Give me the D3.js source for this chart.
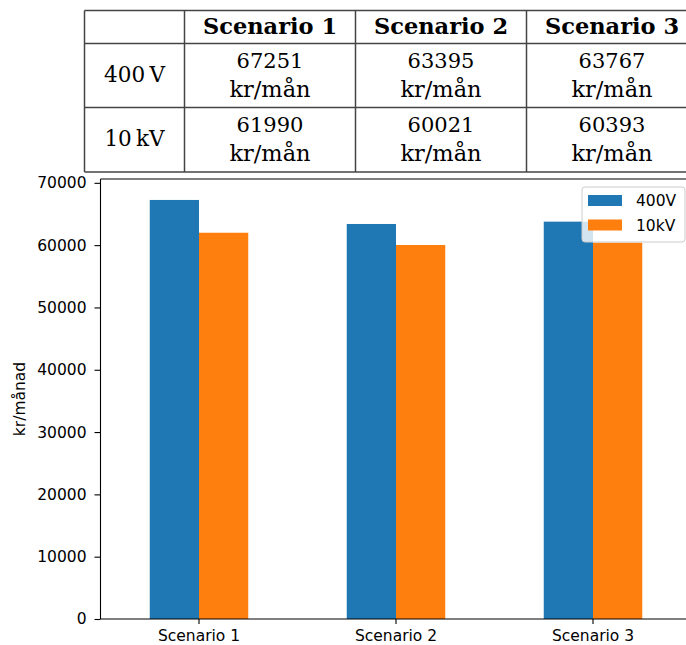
<!DOCTYPE html>
<html><head><meta charset="utf-8">
<script src="https://cdn.jsdelivr.net/npm/d3@7"></script>
<style>body{margin:0;background:#fff}svg{display:block}</style>
</head><body>
<script>
const categories = ["Scenario 1", "Scenario 2", "Scenario 3"];
const seriesNames = ["400V", "10kV"];
const values400V = [67251, 63395, 63767];
const values10kV = [61990, 60021, 60393];
const tableRowLabels = ["400\u202FV", "10\u202FkV"];
const unitLabel = "kr/mån";
const yTicks = [0, 10000, 20000, 30000, 40000, 50000, 60000, 70000];
const colors = ["#1f77b4", "#ff7f0e"];

const W = 686, H = 645;
const svg = d3.select("body").append("svg").attr("width", W).attr("height", H);

const plot = {left: 100.5, right: 691.5, top: 179, bottom: 619};
const series = [values400V, values10kV];
const ymax = d3.max(series.flat()) * 1.05;

const x = d3.scaleBand().domain(categories).range([plot.left, plot.right]).paddingInner(0.5).paddingOuter(0.25);
const xs = d3.scaleBand().domain(seriesNames).range([0, x.bandwidth()]);
const y = d3.scaleLinear().domain([0, ymax]).range([plot.bottom, plot.top]);

// bars
seriesNames.forEach((s, si) => {
  svg.append("g").selectAll("rect").data(series[si]).join("rect")
    .attr("x", (d, i) => x(categories[i]) + xs(s))
    .attr("width", xs.bandwidth())
    .attr("y", d => y(d))
    .attr("height", d => y(0) - y(d))
    .attr("fill", colors[si]);
});

// axes
const fontSans = "DejaVu Sans, sans-serif";
const fs = 15.5;
const yAxis = svg.append("g").attr("transform", `translate(${plot.left},0)`)
  .call(d3.axisLeft(y).tickValues(yTicks).tickSize(6).tickPadding(8).tickFormat(d3.format("d")));
const xAxis = svg.append("g").attr("transform", `translate(0,${plot.bottom})`)
  .call(d3.axisBottom(x).tickSize(5).tickPadding(6));
[yAxis, xAxis].forEach(a => {
  a.attr("font-family", fontSans).attr("font-size", fs);
  a.selectAll("text").attr("font-family", fontSans).attr("font-size", fs).attr("fill", "#000");
  a.selectAll("line").attr("stroke", "#000").attr("stroke-width", 1.1);
  a.select(".domain").attr("stroke", "#000").attr("stroke-width", 1.1);
});
yAxis.select(".domain").attr("d", `M0,${y(0)}V${plot.top}`);
xAxis.select(".domain").attr("d", `M${plot.left},0H${W + 10}`);
// top spine
svg.append("line").attr("x1", plot.left).attr("x2", W + 10).attr("y1", plot.top).attr("y2", plot.top)
  .attr("stroke", "#000").attr("stroke-width", 1.1);

// y label
svg.append("text").attr("transform", `translate(25,${(plot.top + plot.bottom) / 2}) rotate(-90)`)
  .attr("text-anchor", "middle").attr("font-family", fontSans).attr("font-size", fs).text("kr/månad");

// legend
const lg = svg.append("g").attr("transform", "translate(582,187)");
lg.append("rect").attr("width", 103).attr("height", 55).attr("rx", 3)
  .attr("fill", "#fff").attr("fill-opacity", 0.8).attr("stroke", "#ccc").attr("stroke-width", 1);
seriesNames.forEach((s, i) => {
  lg.append("rect").attr("x", 6).attr("y", 8 + i * 24.5).attr("width", 34).attr("height", 11).attr("fill", colors[i]);
  lg.append("text").attr("x", 54).attr("y", 19 + i * 24.5).attr("font-family", fontSans).attr("font-size", fs).text(s);
});

// table
const serif = "'DejaVu Serif', serif";
const tb = {left: 84.5, top: 10.5, colW: [100, 171, 171, 171], rowY: [10.5, 43.5, 107.5, 172]};
const colX = [tb.left];
tb.colW.forEach(w => colX.push(colX[colX.length - 1] + w));
const tg = svg.append("g");
tg.append("rect").attr("x", tb.left).attr("y", tb.rowY[0]).attr("width", colX[4] - tb.left).attr("height", tb.rowY[3] - tb.rowY[0])
  .attr("fill", "#fff");
tb.rowY.forEach(yy => tg.append("line").attr("x1", tb.left).attr("x2", colX[4]).attr("y1", yy).attr("y2", yy)
  .attr("stroke", "#444").attr("stroke-width", 1.5));
colX.forEach(xx => tg.append("line").attr("x1", xx).attr("x2", xx).attr("y1", tb.rowY[0]).attr("y2", tb.rowY[3])
  .attr("stroke", "#444").attr("stroke-width", 1.5));
categories.forEach((c, i) => {
  tg.append("text").attr("x", (colX[i + 1] + colX[i + 2]) / 2).attr("y", 33.5)
    .attr("text-anchor", "middle").attr("font-family", serif).attr("font-weight", "bold").attr("font-size", 22.5).text(c);
});
tableRowLabels.forEach((r, ri) => {
  const cy = (tb.rowY[ri + 1] + tb.rowY[ri + 2]) / 2;
  tg.append("text").attr("x", (colX[0] + colX[1]) / 2).attr("y", cy + 6)
    .attr("text-anchor", "middle").attr("font-family", serif).attr("font-size", 21.5).text(r);
  series[ri].forEach((v, ci) => {
    const cx = (colX[ci + 1] + colX[ci + 2]) / 2;
    tg.append("text").attr("x", cx).attr("y", cy - 8).attr("text-anchor", "middle")
      .attr("font-family", serif).attr("font-size", 21).text(v);
    tg.append("text").attr("x", cx).attr("y", cy + 21).attr("text-anchor", "middle")
      .attr("font-family", serif).attr("font-size", 22.5).text(unitLabel);
  });
});
</script>
</body></html>
